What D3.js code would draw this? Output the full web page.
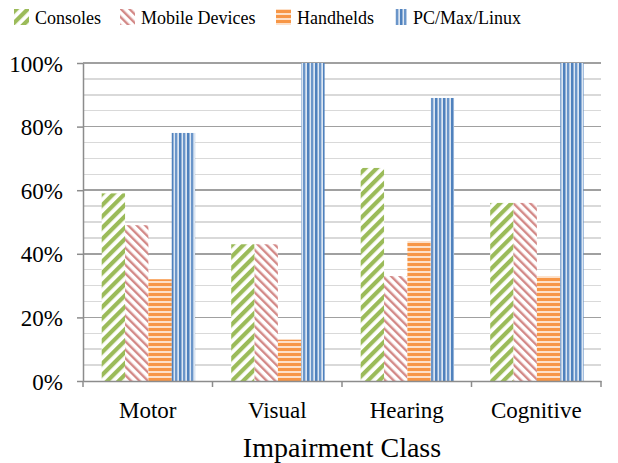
<!DOCTYPE html>
<html>
<head>
<meta charset="utf-8">
<script src="https://cdn.jsdelivr.net/npm/d3@7"></script>
<style>
  body { margin: 0; background: #fff; }
  svg text { font-family: "Liberation Serif", "Times New Roman", serif; fill: #000; }
</style>
</head>
<body>
<script>
const categories = ["Motor", "Visual", "Hearing", "Cognitive"];
const seriesNames = ["Consoles", "Mobile Devices", "Handhelds", "PC/Max/Linux"];
const consoles = [59, 43, 67, 56];
const mobile = [49, 43, 33, 56];
const handhelds = [32, 13, 44, 33];
const pc = [78, 100, 89, 100];
const yTicks = [0, 20, 40, 60, 80, 100];

const seriesValues = [consoles, mobile, handhelds, pc];
const patternIds = ["pGreen", "pRed", "pOrange", "pBlue"];
const serif = "Liberation Serif, Times New Roman, serif";

const W = 618, H = 463;
const margin = {top: 63, right: 17, bottom: 82, left: 83};
const width = W - margin.left - margin.right,
      height = H - margin.top - margin.bottom;

const svg = d3.select("body").append("svg")
    .attr("width", W)
    .attr("height", H)
    .attr("font-family", serif);

// fill patterns
const defs = svg.append("defs");

const pg = defs.append("pattern").attr("id", "pGreen")
    .attr("patternUnits", "userSpaceOnUse").attr("width", 8).attr("height", 8)
    .attr("patternTransform", "rotate(45)");
pg.append("rect").attr("width", 8).attr("height", 8).attr("fill", "#fff");
pg.append("rect").attr("width", 4.2).attr("height", 8).attr("fill", "#9bbb59");

const pr = defs.append("pattern").attr("id", "pRed")
    .attr("patternUnits", "userSpaceOnUse").attr("width", 6).attr("height", 6)
    .attr("patternTransform", "rotate(-45)");
pr.append("rect").attr("width", 6).attr("height", 6).attr("fill", "#fff");
pr.append("rect").attr("width", 2.4).attr("height", 6).attr("fill", "#d38987");

const po = defs.append("pattern").attr("id", "pOrange")
    .attr("patternUnits", "userSpaceOnUse").attr("width", 6).attr("height", 5);
po.append("rect").attr("width", 6).attr("height", 5).attr("fill", "#fde0c8");
po.append("rect").attr("width", 6).attr("height", 3).attr("fill", "#f79646");

const pb = defs.append("pattern").attr("id", "pBlue")
    .attr("patternUnits", "userSpaceOnUse").attr("width", 8).attr("height", 6);
pb.append("rect").attr("width", 8).attr("height", 6).attr("fill", "#dce6f2");
pb.append("rect").attr("x", 0).attr("width", 2).attr("height", 6).attr("fill", "#4f81bd");
pb.append("rect").attr("x", 2).attr("width", 1).attr("height", 6).attr("fill", "#95b3d7");
pb.append("rect").attr("x", 4).attr("width", 2).attr("height", 6).attr("fill", "#6a95c9");
pb.append("rect").attr("x", 6).attr("width", 1).attr("height", 6).attr("fill", "#b9cde5");

const g = svg.append("g")
    .attr("transform", "translate(" + margin.left + "," + margin.top + ")");

var x = d3.scaleBand().domain(categories).range([0, width]).paddingInner(0).paddingOuter(0);
var xs = d3.scaleBand().domain(seriesNames).range([18.7, x.bandwidth() - 17.4]).padding(0);
var y = d3.scaleLinear().domain([0, 100]).range([height, 0]);

// grid lines (minor every 5%, major every 20%)
g.selectAll("line.minorGrid")
    .data(d3.range(5, 100, 5).filter(d => d % 20 !== 0))
    .enter()
    .append("line")
    .attr("class", "minorGrid")
    .attr("x1", 0).attr("x2", width)
    .attr("y1", d => y(d)).attr("y2", d => y(d))
    .attr("shape-rendering", "crispEdges")
    .attr("stroke", "#d9d9d9")
    .attr("stroke-width", 1.5);

g.selectAll("line.majorGrid")
    .data(yTicks.filter(d => d > 0))
    .enter()
    .append("line")
    .attr("class", "majorGrid")
    .attr("x1", 0).attr("x2", width)
    .attr("y1", d => y(d)).attr("y2", d => y(d))
    .attr("shape-rendering", "crispEdges")
    .attr("stroke", "#a0a0a0")
    .attr("stroke-width", 1.5);

// bars
seriesNames.forEach((s, i) => {
    g.append("g")
        .selectAll("rect")
        .data(categories.map((c, j) => ({cat: c, v: seriesValues[i][j]})))
        .enter()
        .append("rect")
        .attr("x", d => x(d.cat) + xs(s))
        .attr("y", d => y(d.v))
        .attr("width", xs.bandwidth())
        .attr("height", d => height - y(d.v))
        .attr("fill", "url(#" + patternIds[i] + ")");
});

// y axis
const yAxis = g.append("g")
    .call(d3.axisLeft(y).tickValues(yTicks).tickFormat(d => d + "%").tickSize(6).tickSizeOuter(0))
    .attr("font-family", serif)
    .attr("font-size", 23);
yAxis.select(".domain").attr("stroke", "#8c8c8c").attr("stroke-width", 1.5);
yAxis.selectAll(".tick line").attr("stroke", "#8c8c8c").attr("stroke-width", 1.5);
yAxis.selectAll(".tick text")
    .attr("x", -20)
    .attr("dy", "0.35em")
    .attr("font-family", serif);

// x axis
const xAxis = g.append("g")
    .attr("transform", "translate(0," + height + ")")
    .call(d3.axisBottom(x).tickSize(0).tickSizeOuter(0))
    .attr("font-family", serif)
    .attr("font-size", 23);
xAxis.select(".domain").attr("stroke", "#8c8c8c").attr("stroke-width", 1.5);
xAxis.selectAll(".tick text")
    .attr("y", 37)
    .attr("dy", "0")
    .attr("font-family", serif);

// category separators
g.selectAll("line.sep")
    .data(d3.range(categories.length + 1))
    .enter()
    .append("line")
    .attr("class", "sep")
    .attr("x1", d => d * x.step()).attr("x2", d => d * x.step())
    .attr("y1", height).attr("y2", height + 6)
    .attr("stroke", "#8c8c8c")
    .attr("stroke-width", 1.5);

// axis title
svg.append("text")
    .attr("text-anchor", "middle")
    .attr("x", margin.left + width / 2)
    .attr("y", 457)
    .attr("font-size", 28)
    .text("Impairment Class");

// legend
const legendX = [14, 120, 276, 395];
const legendW = [15, 15, 15, 12];
const legend = svg.append("g");
seriesNames.forEach((s, i) => {
    legend.append("rect")
        .attr("x", legendX[i])
        .attr("y", 9)
        .attr("width", legendW[i])
        .attr("height", 16)
        .attr("fill", "url(#" + patternIds[i] + ")");
    legend.append("text")
        .attr("x", legendX[i] + legendW[i] + 6)
        .attr("y", 24)
        .attr("font-size", 18)
        .text(s);
});
</script>
</body>
</html>
